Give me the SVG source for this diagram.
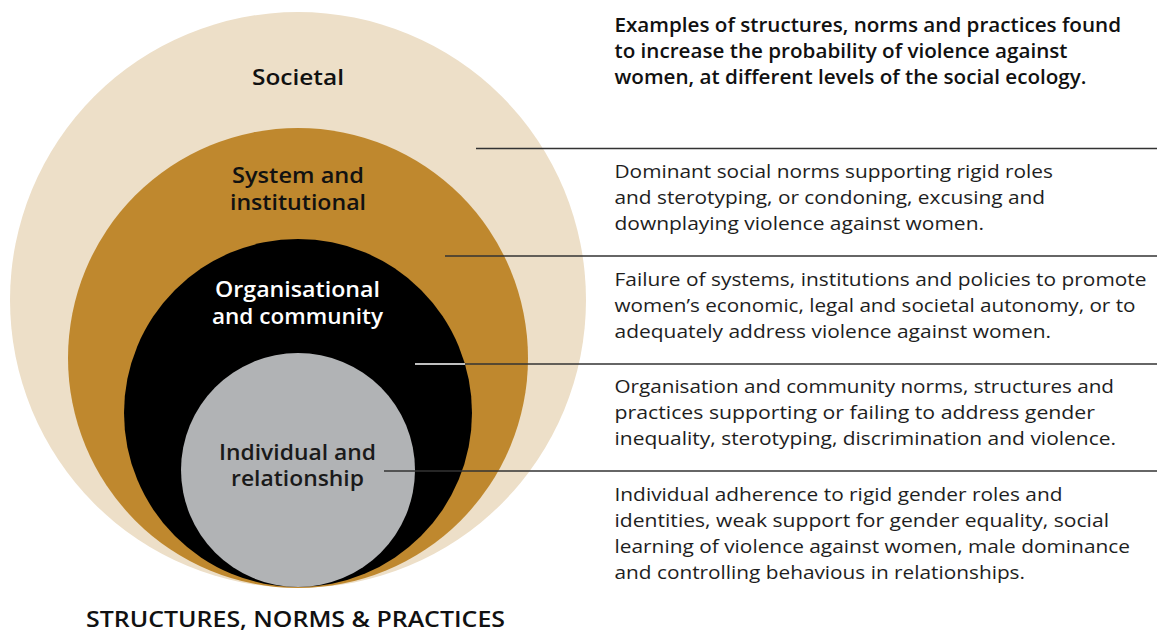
<svg xmlns="http://www.w3.org/2000/svg" width="1161" height="633" viewBox="0 0 1161 633">
<style>
.lbl{font-family:"Open Sans","Liberation Sans",Arial,sans-serif;font-weight:600;font-size:21px;text-anchor:middle}
.hd{font-family:"Open Sans","Liberation Sans",Arial,sans-serif;font-weight:600;font-size:19.5px;fill:#111}
.bd{font-family:"Open Sans","Liberation Sans",Arial,sans-serif;font-size:19px;fill:#1e1e1e}
.ft{font-family:"Open Sans","Liberation Sans",Arial,sans-serif;font-weight:600;font-size:21.5px;fill:#111}
.ln{stroke:#333;stroke-width:1.5;fill:none}
</style>
<rect width="1161" height="633" fill="#fff"/>
<g id="societal">
<circle cx="298" cy="300" r="288" fill="#EDDFC8"/>
<text class="lbl" x="298" y="85" fill="#111" textLength="92" lengthAdjust="spacingAndGlyphs">Societal</text>
</g>
<g id="system">
<circle cx="298" cy="358" r="230" fill="#BF882E"/>
<text class="lbl" x="298" y="183" fill="#111" textLength="132" lengthAdjust="spacingAndGlyphs">System and</text>
<text class="lbl" x="298" y="209.5" fill="#111" textLength="136" lengthAdjust="spacingAndGlyphs">institutional</text>
</g>
<g id="organisational">
<circle cx="298" cy="413" r="174" fill="#000"/>
<text class="lbl" x="297.5" y="297" fill="#fff" textLength="165" lengthAdjust="spacingAndGlyphs">Organisational</text>
<text class="lbl" x="297.5" y="323.5" fill="#fff" textLength="171" lengthAdjust="spacingAndGlyphs">and community</text>
</g>
<g id="individual">
<circle cx="298" cy="470" r="117" fill="#B1B3B5"/>
<text class="lbl" x="297.5" y="460" fill="#1a1a1a" textLength="157" lengthAdjust="spacingAndGlyphs">Individual and</text>
<text class="lbl" x="297.5" y="485.5" fill="#1a1a1a" textLength="133" lengthAdjust="spacingAndGlyphs">relationship</text>
</g>
<g id="connectors">
<line class="ln" x1="476" y1="148.5" x2="1157" y2="148.5"/>
<line class="ln" x1="445" y1="256" x2="1157" y2="256"/>
<line x1="415" y1="364" x2="465" y2="364" stroke="#fff" stroke-width="1.5"/>
<line class="ln" x1="465" y1="364" x2="1157" y2="364"/>
<line class="ln" x1="384" y1="471" x2="1157" y2="471" stroke="#111"/>
</g>
<g id="header">
<text class="hd" x="614.5" y="32" textLength="506.5" lengthAdjust="spacingAndGlyphs">Examples of structures, norms and practices found</text>
<text class="hd" x="614.5" y="58" textLength="453" lengthAdjust="spacingAndGlyphs">to increase the probability of violence against</text>
<text class="hd" x="614.5" y="83.5" textLength="472" lengthAdjust="spacingAndGlyphs">women, at different levels of the social ecology.</text>
</g>
<g id="desc-societal">
<text class="bd" x="614.5" y="178" textLength="438.5" lengthAdjust="spacingAndGlyphs">Dominant social norms supporting rigid roles</text>
<text class="bd" x="614.5" y="203.5" textLength="430.5" lengthAdjust="spacingAndGlyphs">and sterotyping, or condoning, excusing and</text>
<text class="bd" x="614.5" y="229.5" textLength="369.5" lengthAdjust="spacingAndGlyphs">downplaying violence against women.</text>
</g>
<g id="desc-system">
<text class="bd" x="614.5" y="286" textLength="532" lengthAdjust="spacingAndGlyphs">Failure of systems, institutions and policies to promote</text>
<text class="bd" x="614.5" y="312" textLength="521" lengthAdjust="spacingAndGlyphs">women’s economic, legal and societal autonomy, or to</text>
<text class="bd" x="614.5" y="337.5" textLength="436.5" lengthAdjust="spacingAndGlyphs">adequately address violence against women.</text>
</g>
<g id="desc-organisational">
<text class="bd" x="614.5" y="393" textLength="499.5" lengthAdjust="spacingAndGlyphs">Organisation and community norms, structures and</text>
<text class="bd" x="614.5" y="419" textLength="480.5" lengthAdjust="spacingAndGlyphs">practices supporting or failing to address gender</text>
<text class="bd" x="614.5" y="444.5" textLength="501.5" lengthAdjust="spacingAndGlyphs">inequality, sterotyping, discrimination and violence.</text>
</g>
<g id="desc-individual">
<text class="bd" x="614.5" y="501" textLength="448" lengthAdjust="spacingAndGlyphs">Individual adherence to rigid gender roles and</text>
<text class="bd" x="614.5" y="527" textLength="494.5" lengthAdjust="spacingAndGlyphs">identities, weak support for gender equality, social</text>
<text class="bd" x="614.5" y="553" textLength="515.5" lengthAdjust="spacingAndGlyphs">learning of violence against women, male dominance</text>
<text class="bd" x="614.5" y="578.5" textLength="410.5" lengthAdjust="spacingAndGlyphs">and controlling behavious in relationships.</text>
</g>
<g id="footer">
<text class="ft" x="86" y="627" textLength="419" lengthAdjust="spacingAndGlyphs">STRUCTURES, NORMS &amp; PRACTICES</text>
</g>
</svg>
